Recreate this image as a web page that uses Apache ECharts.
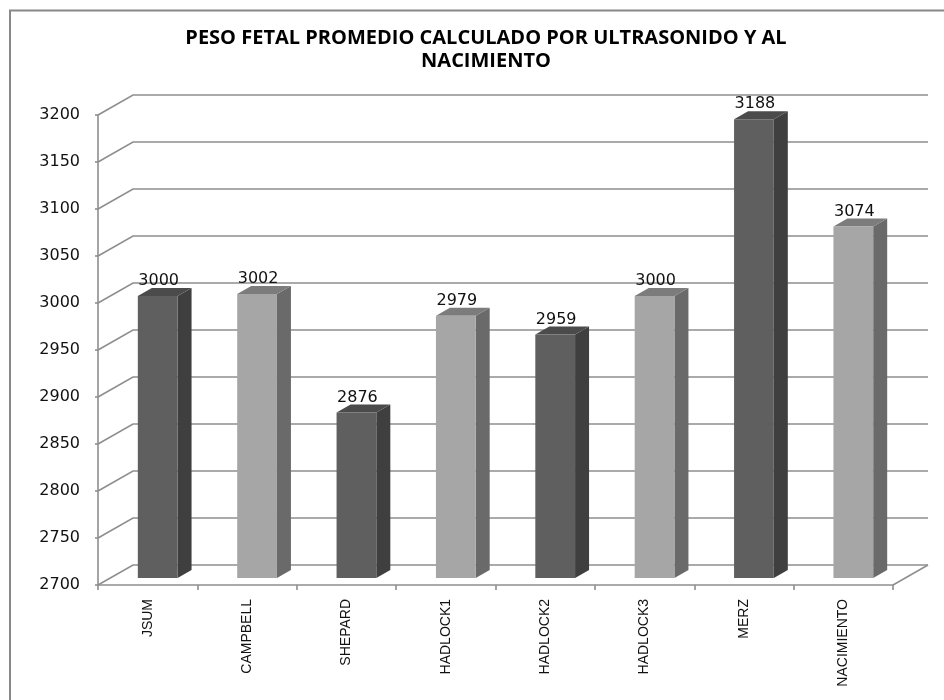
<!DOCTYPE html>
<html>
<head>
<meta charset="utf-8">
<script src="https://cdn.jsdelivr.net/npm/echarts@6/dist/echarts.min.js"></script>
<style>html,body{margin:0;padding:0;background:#fff;}#c{width:944px;height:700px;}</style>
</head>
<body>
<div id="c"></div>
<script>
const titleText = 'PESO FETAL PROMEDIO CALCULADO POR ULTRASONIDO Y AL\nNACIMIENTO';
const categories = ['JSUM', 'CAMPBELL', 'SHEPARD', 'HADLOCK1', 'HADLOCK2', 'HADLOCK3', 'MERZ', 'NACIMIENTO'];
const values = [3000, 3002, 2876, 2979, 2959, 3000, 3188, 3074];
const yMin = 2700, yMax = 3200, yStep = 50;
const yTicks = [2700, 2750, 2800, 2850, 2900, 2950, 3000, 3050, 3100, 3150, 3200];

const chart = echarts.init(document.getElementById('c'));
const DX = 35, DY = -20;            // back wall offset
const BSX = 10, BSY = -7;           // bar placement inside depth
const BDX = 14, BDY = -8;           // bar depth
const LINE = '#8e8e8e';
const tones = {
  dark: {front: '#5f5f5f', side: '#3f3f3f', top: '#4b4b4b'},
  light: {front: '#a6a6a6', side: '#6a6a6a', top: '#7c7c7c'}
};

function gridItem(params, api) {
  const cs = params.coordSys;
  const v = api.value(1);
  const y = api.coord([0, v])[1];
  const x0 = cs.x, x1 = cs.x + cs.width;
  const children = [{
    type: 'polyline',
    shape: {points: [[x0, y], [x0 + DX, y + DY], [x1 + DX, y + DY]]},
    style: {stroke: LINE, lineWidth: 1.6, fill: null}
  }];
  if (v === yMin) {
    children.push({
      type: 'line',
      shape: {x1: x1, y1: y, x2: x1 + DX, y2: y + DY},
      style: {stroke: LINE, lineWidth: 1.6}
    });
  }
  return {type: 'group', children: children};
}

function barItem(params, api) {
  const i = api.value(0), v = api.value(1);
  const top = api.coord([i, v]);
  const bot = api.coord([i, yMin]);
  const band = api.size([1, 0])[0];
  const w = band * 0.4;
  const xl = top[0] - w / 2 + BSX, xr = xl + w;
  const yt = top[1] + BSY, yb = bot[1] + BSY;
  const t = (i % 2 === 0) ? tones.dark : tones.light;
  return {
    type: 'group',
    children: [
      {type: 'polygon', shape: {points: [[xr, yt], [xr + BDX, yt + BDY], [xr + BDX, yb + BDY], [xr, yb]]}, style: {fill: t.side}},
      {type: 'polygon', shape: {points: [[xl, yt], [xl + BDX, yt + BDY], [xr + BDX, yt + BDY], [xr, yt]]}, style: {fill: t.top}},
      {type: 'rect', shape: {x: xl, y: yt, width: w, height: yb - yt}, style: {fill: t.front}},
      {type: 'text', x: (xl + xr) / 2 + 1, y: yt - 15, style: {text: String(v), fill: '#111', font: '16px "DejaVu Sans"', align: 'center', verticalAlign: 'middle'}}
    ]
  };
}

chart.setOption({
  animation: false,
  title: {
    text: titleText, left: 481, top: 22, textAlign: 'center',
    textStyle: {fontFamily: 'Open Sans', fontWeight: 'bold', fontSize: 20, lineHeight: 23, color: '#000'}
  },
  graphic: [{
    type: 'polyline', shape: {points: [[10, 710], [10, 10.5], [960, 10.5]]},
    style: {stroke: '#888', lineWidth: 2, fill: null}, z: 100
  }],
  grid: {left: 98, right: 51, top: 115, bottom: 115},
  xAxis: {
    type: 'category', data: categories,
    axisLine: {show: true, lineStyle: {color: LINE, width: 1.6}},
    axisTick: {show: true, length: 5, lineStyle: {color: LINE, width: 1.6}},
    axisLabel: {rotate: 90, margin: 14, fontFamily: 'Liberation Sans', fontSize: 14, color: '#111'},
    splitLine: {show: false}
  },
  yAxis: {
    type: 'value', min: yMin, max: yMax, interval: yStep,
    axisLine: {show: true, lineStyle: {color: LINE, width: 1.6}},
    axisTick: {show: true, length: 3, lineStyle: {color: LINE, width: 1.6}},
    axisLabel: {margin: 18, fontFamily: 'DejaVu Sans', fontSize: 16, color: '#111', formatter: v => String(v)},
    splitLine: {show: false}
  },
  series: [
    {type: 'custom', renderItem: gridItem, data: yTicks.map(v => [0, v]), z: 1, silent: true},
    {type: 'custom', renderItem: barItem, data: values.map((v, i) => [i, v]), z: 5}
  ]
});
</script>
</body>
</html>
